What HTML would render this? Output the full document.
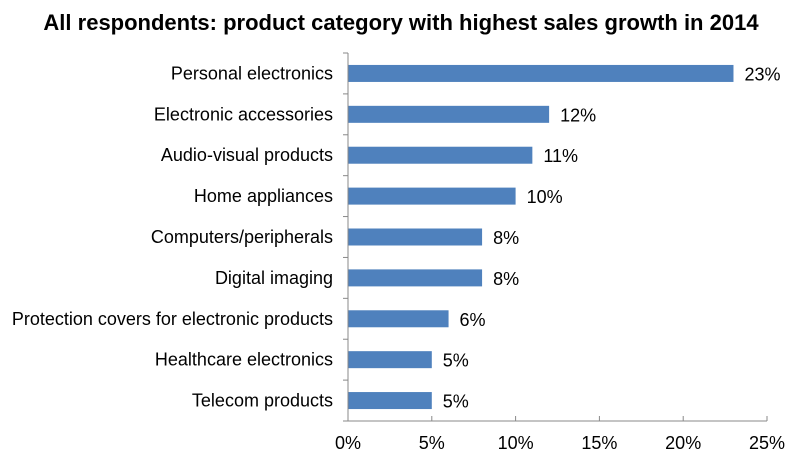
<!DOCTYPE html>
<html><head><meta charset="utf-8"><style>
body{margin:0;background:#fff;}
svg{display:block;font-family:"Liberation Sans",Arial,sans-serif;}
</style></head><body>
<svg id="chart" width="800" height="456" viewBox="0 0 800 456" xmlns="http://www.w3.org/2000/svg">
<text x="401" y="30" text-anchor="middle" font-size="22" font-weight="bold" fill="#000">All respondents: product category with highest sales growth in 2014</text>
<g id="plot"></g>
</svg>
<script>
const categories = ["Personal electronics","Electronic accessories","Audio-visual products","Home appliances","Computers/peripherals","Digital imaging","Protection covers for electronic products","Healthcare electronics","Telecom products"];
const values = [23,12,11,10,8,8,6,5,5];
const tickValues = [0,5,10,15,20,25];
const tickLabels = ["0%","5%","10%","15%","20%","25%"];

const NS="http://www.w3.org/2000/svg";
const g=document.getElementById('plot');
const x0=348,x1=767,yTop=53,yBot=421,xMax=25;
const band=(yBot-yTop)/categories.length;
const xs=v=>x0+(v/xMax)*(x1-x0);
const yc=i=>yTop+band*(i+0.5);
function mk(tag,attrs){const e=document.createElementNS(NS,tag);for(const k in attrs)e.setAttribute(k,attrs[k]);g.appendChild(e);return e;}

categories.forEach((c,i)=>{
  const r=mk('rect',{x:x0,y:yc(i)-8.5,width:xs(values[i])-x0,height:17,fill:'#4f81bd'});
  
  
  const l=mk('text',{x:333,y:yc(i)+6,'text-anchor':'end','font-size':18,fill:'#000'});
  l.textContent=c;
  
  
  const v=mk('text',{x:xs(values[i])+11,y:yc(i)+7,'font-size':18,fill:'#000'});
  v.textContent=values[i]+'%';
  
  
});
for(let i=0;i<=categories.length;i++){
  const t=mk('line',{x1:x0-5,x2:x0,y1:yTop+band*i,y2:yTop+band*i,stroke:'#888'});
  
  
}
const ya=mk('line',{x1:x0,x2:x0,y1:yTop,y2:yBot,stroke:'#888'});


const xa=mk('line',{x1:x0,x2:x1,y1:yBot,y2:yBot,stroke:'#888'});


tickValues.forEach((tv,i)=>{
  const t=mk('line',{x1:xs(tv),x2:xs(tv),y1:yBot-5,y2:yBot,stroke:'#888'});
  
  
  const l=mk('text',{x:xs(tv),y:449,'text-anchor':'middle','font-size':18,fill:'#000'});
  l.textContent=tickLabels[i];
  
  
});
</script>
</body></html>
